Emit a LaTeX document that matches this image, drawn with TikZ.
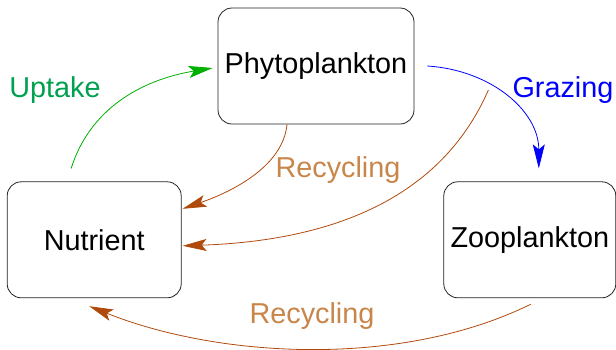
\documentclass[tikz,border=0pt]{standalone}
\usepackage{fontspec}
\setmainfont{Liberation Sans}
\usepackage{xcolor}
\usepackage{tikz}
\usetikzlibrary{arrows.meta,positioning,calc}
\definecolor{boxline}{HTML}{222222}
\definecolor{uptakeline}{HTML}{00B000}
\definecolor{uptaketext}{HTML}{00A050}
\definecolor{grazeline}{HTML}{0000FF}
\definecolor{recycleline}{HTML}{B04A0C}
\definecolor{recycletext}{HTML}{C8864A}
\tikzset{
  pool/.style={draw=boxline, fill=white, rounded corners=14pt, line width=0.8pt, align=center, inner sep=0pt, minimum height=116pt, font=\fontsize{28.8}{33}\selectfont},
  flow/.style={-{Stealth[length=24pt, width=12pt, inset=5pt]}, line width=0.8pt},
  uptakeflow/.style={flow, uptakeline},
  grazeflow/.style={flow, grazeline},
  recycleflow/.style={flow, recycleline},
  flowlabel/.style={font=\fontsize{28.8}{33}\selectfont, inner sep=0pt},
}

\begin{document}
\begin{tikzpicture}[x=1pt, y=1pt]
  \useasboundingbox (0,0) rectangle (616,-349);
  % pools
  \node[pool, minimum width=196pt] (phyto) at (316,-66) {Phytoplankton};
  \node[pool, minimum width=174pt, below left=57pt and 36pt of phyto] (nut) {Nutrient};
  \node[pool, minimum width=172pt, below right=57pt and 29pt of phyto] (zoo) {Zooplankton};
  % labels
  \node[flowlabel, text=uptaketext] (uplabel) at (55,-90) {Uptake};
  \node[flowlabel, text=grazeline] (grazelabel) at (563,-90) {Grazing};
  \node[flowlabel, text=recycletext] (reclabelA) at (338,-170) {Recycling};
  \node[flowlabel, text=recycletext] (reclabelB) at (312,-316) {Recycling};
  % flows
  \draw[uptakeflow] ([shift={(-23pt,13pt)}]nut.north) .. controls +(18,58) and +(-73,-12) .. ([shift={(-5pt,-2pt)}]phyto.west);
  \draw[grazeflow] ([xshift=13pt]phyto.east) .. controls +(63,-4) and +(0,58) .. ([shift={(9pt,13pt)}]zoo.north);
  \draw[recycleflow] ([xshift=-29pt]phyto.south) .. controls +(-4,-41) and +(52,18) .. ([shift={(1pt,31pt)}]nut.east);
  \draw[recycleflow] ([shift={(74pt,-24pt)}]phyto.east) .. controls +(-48,-110) and +(147,5) .. ([shift={(1pt,-6pt)}]nut.east);
  \draw[recycleflow] ([shift={(1pt,-6pt)}]zoo.south) .. controls +(-130,-64) and +(130,-52) .. ([shift={(-5pt,-8pt)}]nut.south);
\end{tikzpicture}
\end{document}
